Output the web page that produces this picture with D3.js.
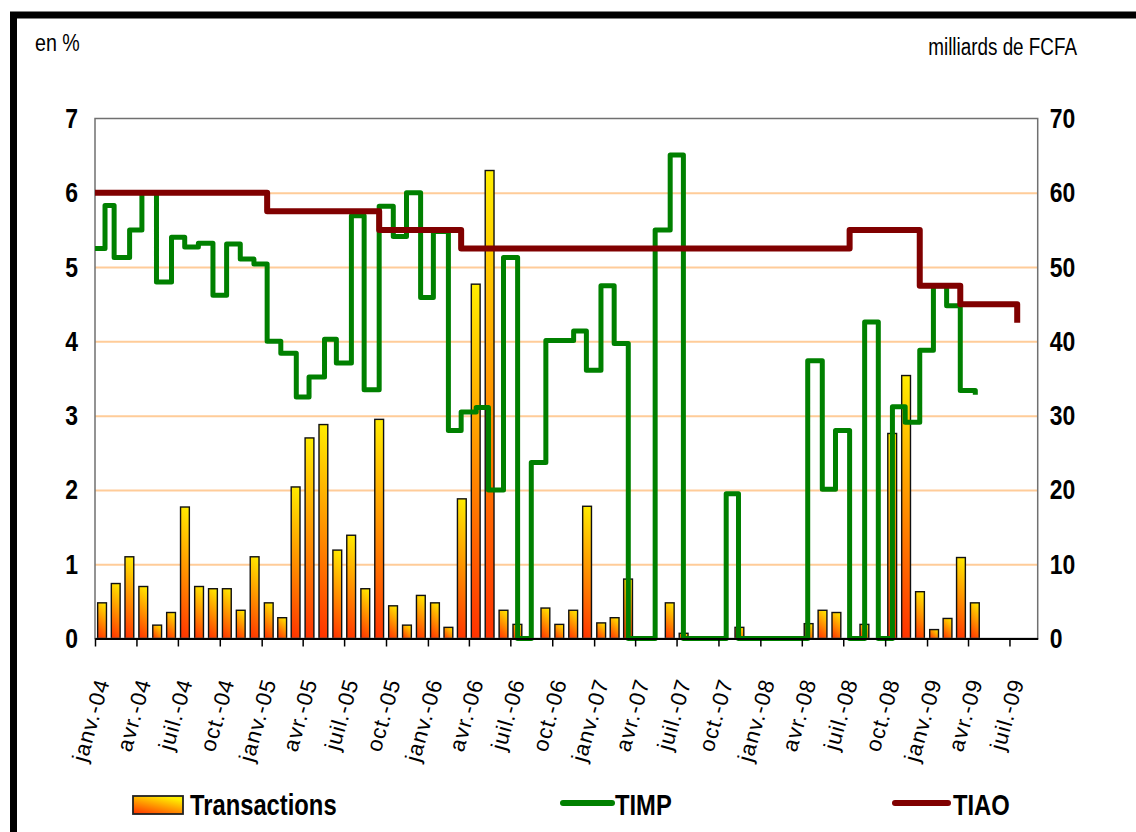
<!DOCTYPE html>
<html>
<head>
<meta charset="utf-8">
<script src="https://cdn.jsdelivr.net/npm/d3@7"></script>
<style>
  body { margin: 0; background: #fff; }
  svg { display: block; }
  text { font-family: "Liberation Sans", Arial, sans-serif; }
</style>
</head>
<body>
<script>

// monthly transactions, milliards de FCFA, janv.-04 .. avr.-09
var transactions = [
    4.8, 7.4, 11, 7, 1.8, 3.5, 17.7, 7, 6.7, 6.7, 3.8, 11,
    4.8, 2.8, 20.4, 27, 28.8, 11.9, 13.9, 6.7, 29.5, 4.4, 1.8, 5.8,
    4.8, 1.5, 18.8, 47.7, 63, 3.8, 1.9, 0, 4.1, 1.9, 3.8, 17.8,
    2.1, 2.8, 8.0, 0, 0, 4.8, 0.7, 0, 0, 0, 1.5, 0,
    0, 0, 0, 2.0, 3.8, 3.5, 0, 1.9, 0, 27.6, 35.4, 6.3,
    1.2, 2.7, 10.9, 4.8
];

// TIMP (en %), value holds from each date
var timpDates = [
    "2004-01-01", "2004-01-23", "2004-02-12", "2004-03-17", "2004-04-13", "2004-05-15", "2004-06-17",
    "2004-07-16", "2004-08-15", "2004-09-16", "2004-10-16", "2004-11-15", "2004-12-15",
    "2005-01-13", "2005-02-12", "2005-03-18", "2005-04-15", "2005-05-19", "2005-06-14",
    "2005-07-17", "2005-08-14", "2005-09-16", "2005-10-17", "2005-11-15", "2005-12-16",
    "2006-01-13", "2006-02-15", "2006-03-15", "2006-04-17", "2006-05-14", "2006-06-16",
    "2006-07-17", "2006-08-16", "2006-09-17", "2006-11-17", "2006-12-15",
    "2007-01-16", "2007-02-14", "2007-03-17", "2007-05-15", "2007-06-17", "2007-07-16",
    "2007-10-18", "2007-11-14",
    "2008-04-14", "2008-05-16", "2008-06-14", "2008-07-15", "2008-08-17", "2008-09-16",
    "2008-10-17", "2008-11-14", "2008-12-16",
    "2009-01-15", "2009-02-13", "2009-03-15", "2009-04-17"
];
var timpValues = [
    5.25, 5.83, 5.13, 5.5, 6.0, 4.8, 5.4, 5.27, 5.32, 4.62, 5.31, 5.11, 5.04,
    4.0, 3.84, 3.25, 3.52, 4.03, 3.71, 5.69, 3.35, 5.82, 5.41, 6.0, 4.59,
    5.48, 2.8, 3.05, 3.11, 2.0, 5.13, 0, 2.37, 4.01, 4.14, 3.61,
    4.75, 3.97, 0, 5.5, 6.51, 0, 1.95, 0,
    3.74, 2.01, 2.8, 0, 4.26, 0, 3.12, 2.91, 3.88,
    4.75, 4.48, 3.34, 3.28
];

// TIAO (en %)
var tiaoDates = ["2004-01-01", "2005-01-13", "2005-09-16", "2006-03-15", "2008-07-15", "2008-12-16", "2009-03-15", "2009-07-18"];
var tiaoValues = [6.0, 5.75, 5.5, 5.25, 5.5, 4.75, 4.5, 4.25];

var tickLabels = [
    "janv.-04", "avr.-04", "juil.-04", "oct.-04",
    "janv.-05", "avr.-05", "juil.-05", "oct.-05",
    "janv.-06", "avr.-06", "juil.-06", "oct.-06",
    "janv.-07", "avr.-07", "juil.-07", "oct.-07",
    "janv.-08", "avr.-08", "juil.-08", "oct.-08",
    "janv.-09", "avr.-09", "juil.-09"
];

var parse = d3.timeParse("%Y-%m-%d");
var squeeze = 0.82; // fake Arial Narrow

var plot = { left: 95, right: 1037.7, top: 118.5, bottom: 638.5 };

var svg = d3.select("body").append("svg")
    .attr("width", 1136)
    .attr("height", 832);

svg.append("rect")
    .attr("width", 1136).attr("height", 832)
    .attr("fill", "#fff");

// black frame, runs off the right and bottom edges
svg.append("rect")
    .attr("x", 13.5).attr("y", 15)
    .attr("width", 1200).attr("height", 900)
    .attr("fill", "none")
    .attr("stroke", "#000")
    .attr("stroke-width", 7);

var start = new Date(2004, 0, 1), end = new Date(2009, 8, 1);
var x = d3.scaleTime().domain([start, end]).range([plot.left, plot.right]);
var yL = d3.scaleLinear().domain([0, 7]).range([plot.bottom, plot.top]);
var yR = d3.scaleLinear().domain([0, 70]).range([plot.bottom, plot.top]);

var months = d3.timeMonth.range(start, d3.timeMonth.offset(start, transactions.length));
var tickDates = d3.timeMonth.every(3).range(start, new Date(2009, 6, 2));

// narrow text helper
function narrowText(sel, px, py, size, bold, anchor, txt) {
    return sel.append("text")
        .attr("transform", "translate(" + px + "," + py + ") scale(" + squeeze + ",1)")
        .style("font-size", size + "px")
        .style("font-weight", bold ? "bold" : "normal")
        .style("text-anchor", anchor)
        .attr("fill", "#000")
        .text(txt);
}

// grid lines
svg.append("g")
    .attr("transform", "translate(" + plot.left + ",0)")
    .call(d3.axisLeft(yL).tickValues([1, 2, 3, 4, 5, 6]).tickSize(-(plot.right - plot.left)).tickFormat(""))
    .call(function (g) {
        g.select(".domain").remove();
        g.selectAll("line").attr("stroke", "#FFCC99").attr("stroke-width", 2);
    });

// bars
var defs = svg.append("defs");
var barW = 8.8;

var bars = months.map(function (m, i) {
    var x0 = x(m), x1 = x(d3.timeMonth.offset(m, 1));
    var cx = (x0 + x1) / 2;
    return { i: i, x: cx - barW / 2, y: yR(transactions[i]), h: plot.bottom - yR(transactions[i]), v: transactions[i] };
}).filter(function (d) { return d.v > 0; });

bars.forEach(function (d) {
    var dd = (barW + d.h) / 2;
    var g = defs.append("linearGradient")
        .attr("id", "bg" + d.i)
        .attr("gradientUnits", "userSpaceOnUse")
        .attr("x1", d.x).attr("y1", d.y + d.h)
        .attr("x2", d.x + dd).attr("y2", d.y + d.h - dd);
    g.append("stop").attr("offset", 0).attr("stop-color", "#FF3000");
    g.append("stop").attr("offset", 0.5).attr("stop-color", "#FF9000");
    g.append("stop").attr("offset", 1).attr("stop-color", "#FFF000");
});

svg.append("g").selectAll("rect")
    .data(bars)
    .enter().append("rect")
    .attr("x", function (d) { return d.x; })
    .attr("y", function (d) { return d.y; })
    .attr("width", barW)
    .attr("height", function (d) { return d.h; })
    .attr("fill", function (d) { return "url(#bg" + d.i + ")"; })
    .attr("stroke", "#111")
    .attr("stroke-width", 1.4);

// plot frame
svg.append("rect")
    .attr("x", plot.left).attr("y", plot.top)
    .attr("width", plot.right - plot.left).attr("height", plot.bottom - plot.top)
    .attr("fill", "none")
    .attr("stroke", "#707070")
    .attr("stroke-width", 1.5);

// lines
var step = d3.line()
    .x(function (d) { return x(d[0]); })
    .y(function (d) { return yL(d[1]); })
    .curve(d3.curveStepAfter);

var timp = timpDates.map(function (d, i) { return [parse(d), timpValues[i]]; });
var tiao = tiaoDates.map(function (d, i) { return [parse(d), tiaoValues[i]]; });

svg.append("path")
    .attr("d", step(timp))
    .attr("fill", "none")
    .attr("stroke", "#008000")
    .attr("stroke-width", 5)
    .attr("stroke-linejoin", "round");

svg.append("path")
    .attr("d", step(tiao))
    .attr("fill", "none")
    .attr("stroke", "#800000")
    .attr("stroke-width", 6)
    .attr("stroke-linejoin", "round");

// x axis
var xAxis = svg.append("g")
    .attr("transform", "translate(0," + plot.bottom + ")")
    .call(d3.axisBottom(x).tickValues(tickDates).tickSize(8).tickSizeOuter(0)
        .tickFormat(function (d, i) { return tickLabels[i]; }));

xAxis.select(".domain").attr("stroke", "#000").attr("stroke-width", 2);
xAxis.selectAll(".tick line").attr("stroke", "#000").attr("stroke-width", 1.5);
xAxis.selectAll(".tick text")
    .attr("x", 0).attr("y", 0).attr("dy", "0.35em")
    .attr("transform", "translate(7,41) rotate(-74)")
    .style("text-anchor", "end")
    .style("font-size", "22px")
    .style("letter-spacing", "1px")
    .attr("fill", "#000");

// y axes
var left = svg.append("g")
    .attr("transform", "translate(" + plot.left + ",0)")
    .call(d3.axisLeft(yL).ticks(7).tickSize(0).tickPadding(17));
left.select(".domain").remove();
left.selectAll("text")
    .attr("x", -17 / squeeze)
    .attr("transform", "scale(" + squeeze + ",1)")
    .style("font-size", "28px").style("font-weight", "bold").attr("fill", "#000");

var right = svg.append("g")
    .attr("transform", "translate(" + plot.right + ",0)")
    .call(d3.axisRight(yR).ticks(7).tickSize(0).tickPadding(12));
right.select(".domain").remove();
right.selectAll("text")
    .attr("x", 12 / squeeze)
    .attr("transform", "scale(" + squeeze + ",1)")
    .style("font-size", "28px").style("font-weight", "bold").attr("fill", "#000");

// units
narrowText(svg, 35, 51, 24, false, "start", "en %");
narrowText(svg, 1077, 55, 23, false, "end", "milliards de FCFA");

// legend
var lg = defs.append("linearGradient")
    .attr("id", "legendGrad")
    .attr("x1", 0).attr("y1", 1).attr("x2", 0.6).attr("y2", 0);
lg.append("stop").attr("offset", 0).attr("stop-color", "#FF3000");
lg.append("stop").attr("offset", 0.5).attr("stop-color", "#FF9000");
lg.append("stop").attr("offset", 1).attr("stop-color", "#FFF000");

var legend = svg.append("g");

legend.append("rect")
    .attr("x", 133).attr("y", 796).attr("width", 50).attr("height", 18)
    .attr("fill", "url(#legendGrad)")
    .attr("stroke", "#222").attr("stroke-width", 1.8);
narrowText(legend, 190, 815, 29, true, "start", "Transactions");

legend.append("line")
    .attr("x1", 563).attr("x2", 612).attr("y1", 803).attr("y2", 803)
    .attr("stroke", "#008000").attr("stroke-width", 6).attr("stroke-linecap", "round");
narrowText(legend, 615, 815, 29, true, "start", "TIMP");

legend.append("line")
    .attr("x1", 895).attr("x2", 948).attr("y1", 803).attr("y2", 803)
    .attr("stroke", "#800000").attr("stroke-width", 6).attr("stroke-linecap", "round");
narrowText(legend, 953, 815, 29, true, "start", "TIAO");

</script>
</body>
</html>
